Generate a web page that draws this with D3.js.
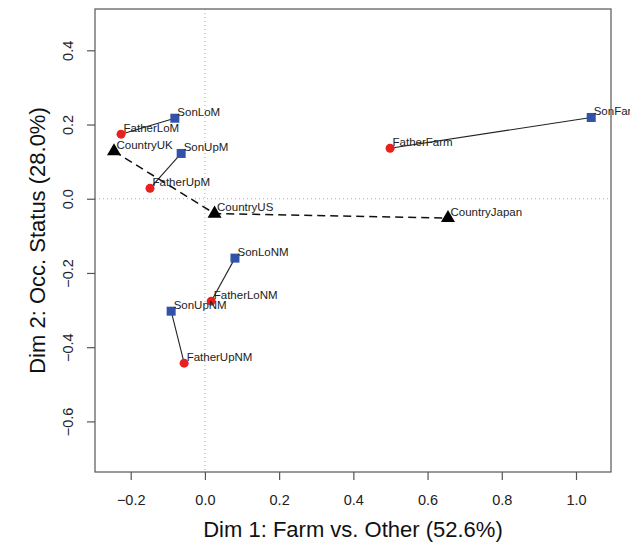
<!DOCTYPE html>
<html>
<head>
<meta charset="utf-8">
<script src="https://cdn.jsdelivr.net/npm/d3@7"></script>
<style>
  html, body { margin: 0; padding: 0; background: #fff; }
  svg { display: block; font-family: "Liberation Sans", Arial, Helvetica, sans-serif; }
</style>
</head>
<body>
<svg id="chart" width="630" height="542"></svg>
<script>
// Correspondence analysis map: father/son occupation categories and countries
const fatherLabels = ["FatherFarm", "FatherLoM", "FatherUpM", "FatherLoNM", "FatherUpNM"];
const fatherDim1   = [0.499, -0.226, -0.148, 0.017, -0.056];
const fatherDim2   = [0.136, 0.174, 0.028, -0.276, -0.443];

const sonLabels = ["SonFarm", "SonLoM", "SonUpM", "SonLoNM", "SonUpNM"];
const sonDim1   = [1.041, -0.081, -0.064, 0.081, -0.091];
const sonDim2   = [0.219, 0.217, 0.122, -0.160, -0.303];

const countryLabels = ["CountryUK", "CountryUS", "CountryJapan"];
const countryDim1   = [-0.245, 0.026, 0.655];
const countryDim2   = [0.128, -0.040, -0.052];

const xTicks = [-0.2, 0.0, 0.2, 0.4, 0.6, 0.8, 1.0];
const yTicks = [-0.6, -0.4, -0.2, 0.0, 0.2, 0.4];

const xTitle = "Dim 1: Farm vs. Other (52.6%)";
const yTitle = "Dim 2: Occ. Status (28.0%)";

const box = { left: 95, right: 611, top: 9, bottom: 472 };

const x = d3.scaleLinear().domain([-0.2, 1.0]).range([130.7, 576]);
const y = d3.scaleLinear().domain([-0.6, 0.4]).range([421.4, 50.3]);

const svg = d3.select("#chart");

// zero reference lines
const g = svg.append("g");
g.append("line")
  .attr("x1", x(0)).attr("x2", x(0))
  .attr("y1", box.top).attr("y2", box.bottom)
  .attr("stroke", "#aaa").attr("stroke-width", 1).attr("stroke-dasharray", "1,3");
g.append("line")
  .attr("x1", box.left).attr("x2", box.right)
  .attr("y1", y(0)).attr("y2", y(0))
  .attr("stroke", "#aaa").attr("stroke-width", 1).attr("stroke-dasharray", "1,3");

// father -> son segments
const pairs = fatherLabels.map((f, i) => ({
  fx: fatherDim1[i], fy: fatherDim2[i], sx: sonDim1[i], sy: sonDim2[i]
}));
g.selectAll("line.pair").data(pairs).join("line")
  .attr("class", "pair")
  .attr("x1", d => x(d.fx)).attr("y1", d => y(d.fy))
  .attr("x2", d => x(d.sx)).attr("y2", d => y(d.sy))
  .attr("stroke", "#222").attr("stroke-width", 1.1);

// country path
const countryLine = d3.line().x(d => x(d[0])).y(d => y(d[1]));
g.append("path")
  .datum(countryDim1.map((v, i) => [v, countryDim2[i]]))
  .attr("d", countryLine)
  .attr("fill", "none").attr("stroke", "#111")
  .attr("stroke-width", 1.5).attr("stroke-dasharray", "8,5");

// markers
g.selectAll("circle.father").data(fatherLabels).join("circle")
  .attr("class", "father")
  .attr("cx", (d, i) => x(fatherDim1[i])).attr("cy", (d, i) => y(fatherDim2[i]))
  .attr("r", 4.5).attr("fill", "#e8211e");

g.selectAll("rect.son").data(sonLabels).join("rect")
  .attr("class", "son")
  .attr("x", (d, i) => x(sonDim1[i]) - 4.5).attr("y", (d, i) => y(sonDim2[i]) - 4.5)
  .attr("width", 9).attr("height", 9).attr("fill", "#3152a8");

const tri = d3.symbol().type(d3.symbolTriangle).size(85);
g.selectAll("path.country").data(countryLabels).join("path")
  .attr("class", "country")
  .attr("transform", (d, i) => `translate(${x(countryDim1[i])},${y(countryDim2[i])})`)
  .attr("d", tri).attr("fill", "#000");

// point labels, set to the upper right of each mark
const labelData = []
  .concat(fatherLabels.map((t, i) => ({ t, x: fatherDim1[i], y: fatherDim2[i] })))
  .concat(sonLabels.map((t, i) => ({ t, x: sonDim1[i], y: sonDim2[i] })))
  .concat(countryLabels.map((t, i) => ({ t, x: countryDim1[i], y: countryDim2[i] })));

g.selectAll("text.pt").data(labelData).join("text")
  .attr("class", "pt")
  .attr("x", d => x(d.x) + 2.5).attr("y", d => y(d.y) - 2.5)
  .attr("font-size", 11.5).attr("fill", "#222")
  .text(d => d.t);

// frame
svg.append("rect")
  .attr("x", box.left).attr("y", box.top)
  .attr("width", box.right - box.left).attr("height", box.bottom - box.top)
  .attr("fill", "none").attr("stroke", "#555").attr("stroke-width", 1.2);

// x axis
const xAxis = svg.append("g")
  .attr("transform", `translate(0,${box.bottom})`)
  .call(d3.axisBottom(x).tickValues(xTicks).tickFormat(d3.format(".1f")).tickSize(8).tickPadding(15));
xAxis.select(".domain").remove();
xAxis.selectAll("line").attr("stroke", "#555").attr("stroke-width", 1.2);
xAxis.selectAll("text").attr("font-size", 14.5).attr("fill", "#222")
  .attr("font-family", "'Liberation Sans', Arial, sans-serif")
  .text(d => d3.format(".1f")(d).replace("-", "\u2212"));

// y axis with vertical labels
const yAxis = svg.append("g")
  .attr("transform", `translate(${box.left},0)`)
  .call(d3.axisLeft(y).tickValues(yTicks).tickSize(8));
yAxis.select(".domain").remove();
yAxis.selectAll("line").attr("stroke", "#555").attr("stroke-width", 1.2);
yAxis.selectAll("text")
  .attr("font-size", 14.5).attr("fill", "#222")
  .attr("font-family", "'Liberation Sans', Arial, sans-serif")
  .attr("x", null).attr("dy", null)
  .attr("text-anchor", "middle")
  .attr("transform", "translate(-22,0) rotate(-90)")
  .text(d => d3.format(".1f")(d).replace("-", "\u2212"));

// axis titles
svg.append("text")
  .attr("x", (box.left + box.right) / 2).attr("y", 537)
  .attr("text-anchor", "middle").attr("font-size", 22).attr("fill", "#111")
  .text(xTitle);
svg.append("text")
  .attr("transform", `translate(45,${(box.top + box.bottom) / 2}) rotate(-90)`)
  .attr("text-anchor", "middle").attr("font-size", 22).attr("fill", "#111")
  .text(yTitle);
</script>
</body>
</html>
